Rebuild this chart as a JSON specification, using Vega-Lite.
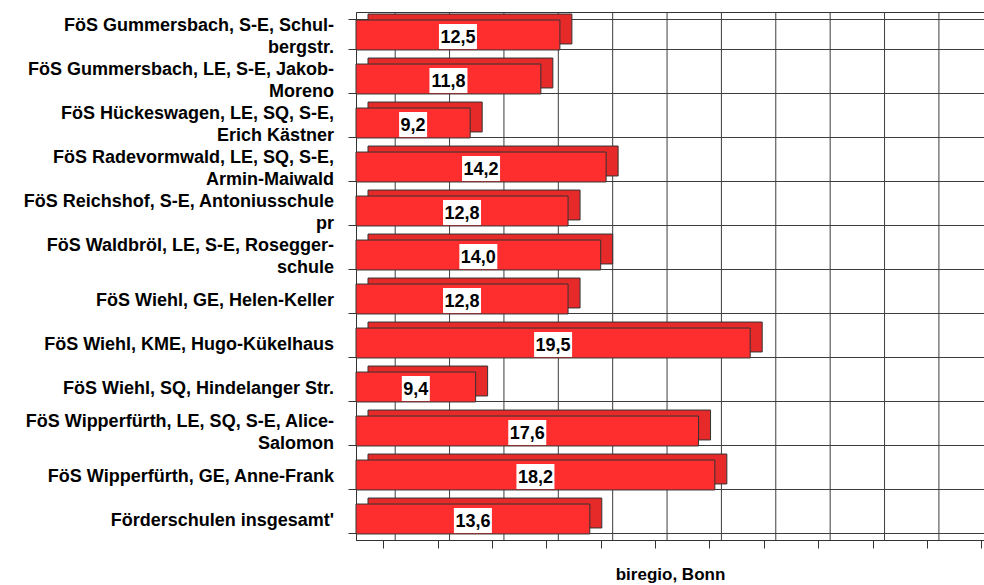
{
  "$schema": "https://vega.github.io/schema/vega-lite/v6.json",
  "width": 628,
  "height": 528,
  "autosize": "none",
  "padding": {"left": 356, "top": 12, "right": 0, "bottom": 45},
  "background": "white",
  "config": {
    "locale": {"number": {"decimal": ",", "thousands": ".", "grouping": [3], "currency": ["", " €"]}},
    "view": {"stroke": "#333333", "strokeWidth": 1}
  },
  "datasets": {
    "schools": [
      {"name": "FöS Gummersbach, S-E, Schul-|bergstr.", "value": 12.5},
      {"name": "FöS Gummersbach, LE, S-E, Jakob-|Moreno", "value": 11.8},
      {"name": "FöS Hückeswagen, LE, SQ, S-E,|Erich Kästner", "value": 9.2},
      {"name": "FöS Radevormwald, LE, SQ, S-E,|Armin-Maiwald", "value": 14.2},
      {"name": "FöS Reichshof, S-E, Antoniusschule|pr", "value": 12.8},
      {"name": "FöS Waldbröl, LE, S-E, Rosegger-|schule", "value": 14.0},
      {"name": "FöS Wiehl, GE, Helen-Keller", "value": 12.8},
      {"name": "FöS Wiehl, KME, Hugo-Kükelhaus", "value": 19.5},
      {"name": "FöS Wiehl, SQ, Hindelanger Str.", "value": 9.4},
      {"name": "FöS Wipperfürth, LE, SQ, S-E, Alice-|Salomon", "value": 17.6},
      {"name": "FöS Wipperfürth, GE, Anne-Frank", "value": 18.2},
      {"name": "Förderschulen insgesamt'", "value": 13.6}
    ],
    "gridlines": [
      {"g": 6}, {"g": 8}, {"g": 10}, {"g": 12}, {"g": 14}, {"g": 16},
      {"g": 18}, {"g": 20}, {"g": 22}, {"g": 24}, {"g": 26}, {"g": 28}
    ]
  },
  "layer": [
    {
      "data": {"name": "gridlines"},
      "mark": {"type": "rule", "color": "#3d3d3d", "strokeWidth": 1, "xOffset": 12},
      "encoding": {
        "x": {
          "field": "g",
          "type": "quantitative",
          "scale": {"domain": [5, 28.1], "nice": false, "zero": false},
          "axis": {
            "values": [6, 8, 10, 12, 14, 16, 18, 20, 22, 24, 26, 28],
            "labels": false,
            "tickSize": 8,
            "tickColor": "#333333",
            "domainColor": "#333333",
            "grid": false,
            "title": "biregio, Bonn",
            "titleFont": "Liberation Sans",
            "titleFontSize": 17,
            "titleFontWeight": "bold",
            "titleColor": "#000000",
            "titlePadding": 18
          }
        }
      }
    },
    {
      "data": {"name": "schools"},
      "mark": {"type": "bar", "color": "#e62a2a", "stroke": "#333333", "strokeWidth": 1, "xOffset": 12, "x2Offset": 12, "yOffset": -5, "y2Offset": -5},
      "encoding": {
        "y": {
          "field": "name",
          "type": "nominal",
          "sort": null,
          "scale": {"paddingInner": 0.32, "paddingOuter": 0.16},
          "axis": {
            "title": null,
            "labels": false,
            "tickBand": "extent",
            "tickSize": 8,
            "tickColor": "#333333",
            "domainColor": "#333333",
            "grid": true,
            "gridColor": "#3d3d3d",
            "gridWidth": 1
          }
        },
        "x": {"field": "value", "type": "quantitative"},
        "x2": {"datum": 5}
      }
    },
    {
      "data": {"name": "schools"},
      "mark": {"type": "bar", "color": "#ff2e2e", "stroke": "#333333", "strokeWidth": 1, "yOffset": 1, "y2Offset": 1},
      "encoding": {
        "y": {"field": "name", "type": "nominal", "sort": null},
        "x": {"field": "value", "type": "quantitative"},
        "x2": {"datum": 5}
      }
    },
    {
      "data": {"name": "schools"},
      "mark": {"type": "text", "font": "Liberation Sans", "fontWeight": "bold", "fontSize": 18, "color": "#000000", "align": "right", "baseline": "middle", "lineBreak": "|", "lineHeight": 22, "dx": -22, "dy": {"expr": "indexof(datum.name, '|') >= 0 ? -8 : 3"}},
      "encoding": {
        "y": {"field": "name", "type": "nominal", "sort": null},
        "x": {"datum": 5},
        "text": {"field": "name"}
      }
    },
    {
      "data": {"name": "schools"},
      "transform": [{"calculate": "(5 + datum.value) / 2", "as": "mid"}],
      "mark": {"type": "point", "filled": true, "color": "white", "opacity": 1, "strokeWidth": 0, "yOffset": 2.5},
      "encoding": {
        "y": {"field": "name", "type": "nominal", "sort": null},
        "x": {"field": "mid", "type": "quantitative"},
        "shape": {"condition": {"test": "datum.value < 10", "value": "M-1,-0.893H1V0.893H-1Z"}, "value": "M-1,-0.658H1V0.658H-1Z"},
        "size": {"condition": {"test": "datum.value < 10", "value": 784}, "value": 1444}
      }
    },
    {
      "data": {"name": "schools"},
      "transform": [{"calculate": "(5 + datum.value) / 2", "as": "mid"}],
      "mark": {"type": "text", "font": "Liberation Sans", "fontWeight": "bold", "fontSize": 18, "color": "#000000", "align": "center", "baseline": "middle", "yOffset": 3.5},
      "encoding": {
        "y": {"field": "name", "type": "nominal", "sort": null},
        "x": {"field": "mid", "type": "quantitative"},
        "text": {"field": "value", "type": "quantitative", "format": ".1f"}
      }
    }
  ]
}
